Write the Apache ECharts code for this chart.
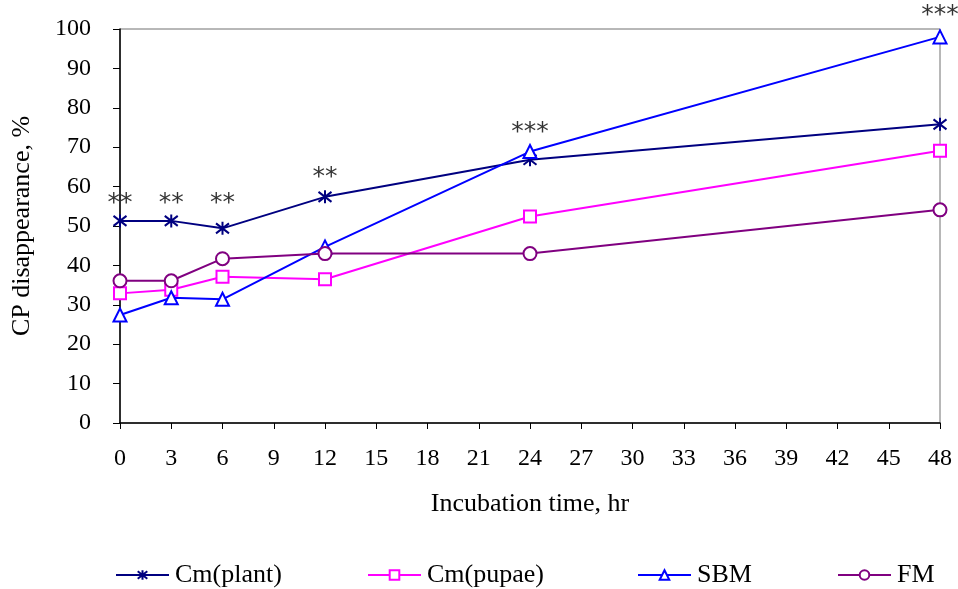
<!DOCTYPE html>
<html>
<head>
<meta charset="utf-8">
<script src="https://cdn.jsdelivr.net/npm/echarts@6/dist/echarts.min.js"></script>
<style>html,body{margin:0;padding:0;background:#fff}#c{width:958px;height:589px}</style>
</head>
<body>
<div id="c"></div>
<script>
var hours = [0, 3, 6, 12, 24, 48];
var seriesNames = ['Cm(plant)', 'Cm(pupae)', 'SBM', 'FM'];
var cmPlant = [51.3, 51.3, 49.4, 57.4, 66.8, 75.8];
var cmPupae = [32.9, 33.8, 37.1, 36.5, 52.4, 69.1];
var sbm = [27.4, 31.8, 31.4, 44.7, 68.9, 98.0];
var fm = [36.1, 36.1, 41.7, 43.0, 43.0, 54.1];
var sigX = [0, 3, 6, 12, 24, 48];
var sigY = [55.6, 55.6, 55.6, 62.2, 73.8, 103.3];
var sigText = ['**', '**', '**', '**', '***', '***'];
var xTicks = {min: 0, max: 48, interval: 3};
var yTicks = {min: 0, max: 100, interval: 10};

var FONT = '"Liberation Serif", "Times New Roman", serif';
var colors = ['#000080', '#FF00FF', '#0000FF', '#800080'];
var symbols = [
  'path://M0,0L10,10M10,0L0,10M5,-1.5L5,11.5',
  'rect', 'triangle', 'circle'
];
var sizes = [13, 12, 13, 13];
var values = [cmPlant, cmPupae, sbm, fm];

function pairs(xs, ys) { return xs.map(function (x, i) { return [x, ys[i]]; }); }

var series = seriesNames.map(function (name, i) {
  return {
    name: name,
    type: 'line',
    data: pairs(hours, values[i]),
    symbol: symbols[i],
    symbolSize: sizes[i],
    showAllSymbol: true,
    lineStyle: {color: colors[i], width: 2},
    itemStyle: {color: '#ffffff', borderColor: colors[i], borderWidth: 2},
    emphasis: {disabled: true},
    z: 3 + i
  };
});
series.push({
  name: 'sig',
  type: 'scatter',
  data: pairs(sigX, sigY),
  symbolSize: 0,
  clip: false,
  silent: true,
  z: 10,
  label: {
    show: true,
    position: 'inside',
    formatter: function (p) { return sigText[p.dataIndex]; },
    fontFamily: '"DejaVu Sans", sans-serif',
    fontSize: 25,
    color: '#000'
  }
});

var legendLefts = [110, 362, 632, 832];
var legends = seriesNames.map(function (name, i) {
  return {
    data: [name],
    left: legendLefts[i],
    top: 557,
    itemWidth: 53,
    itemHeight: 12,
    itemGap: 0,
    textStyle: {fontFamily: FONT, fontSize: 26, color: '#000', padding: [0, 0, 0, 1]}
  };
});

var chart = echarts.init(document.getElementById('c'), null, {renderer: 'canvas'});
chart.setOption({
  animation: false,
  backgroundColor: '#fff',
  grid: {left: 120, right: 18, top: 29, bottom: 166, show: true, borderColor: '#707070', borderWidth: 1, containLabel: false},
  legend: legends,
  xAxis: {
    type: 'value', min: xTicks.min, max: xTicks.max, interval: xTicks.interval,
    name: 'Incubation time, hr', nameLocation: 'middle', nameGap: 68,
    nameTextStyle: {fontFamily: FONT, fontSize: 26, color: '#000'},
    axisLine: {show: true, lineStyle: {color: '#000', width: 1.5}},
    axisTick: {show: true, inside: false, length: 6, lineStyle: {color: '#000'}},
    axisLabel: {margin: 24, fontFamily: FONT, fontSize: 24, color: '#000'},
    splitLine: {show: false}
  },
  yAxis: {
    type: 'value', min: yTicks.min, max: yTicks.max, interval: yTicks.interval,
    name: 'CP disappearance, %', nameLocation: 'middle', nameGap: 85,
    nameTextStyle: {fontFamily: FONT, fontSize: 26, color: '#000'},
    axisLine: {show: true, lineStyle: {color: '#000', width: 1.5}},
    axisTick: {show: true, inside: false, length: 7, lineStyle: {color: '#000'}},
    axisLabel: {margin: 29, fontFamily: FONT, fontSize: 24, color: '#000'},
    splitLine: {show: false}
  },
  series: series
});
</script>
</body>
</html>
